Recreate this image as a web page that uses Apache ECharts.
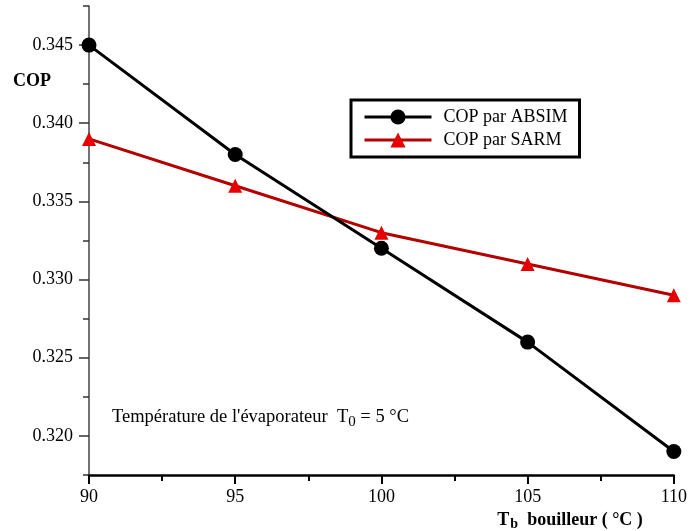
<!DOCTYPE html>
<html lang="fr">
<head>
    <meta charset="UTF-8">
    <title>COP en fonction de Tb</title>
    <script src="https://cdn.jsdelivr.net/npm/echarts@6/dist/echarts.min.js"></script>
    <style>
        html, body { margin: 0; padding: 0; background: #fff; }
        #chart1 { width: 690px; height: 531px; }
    </style>
</head>
<body>
<div id="chart1"></div>
<script>
    // temperatures du bouilleur (°C)
    var tempsBouilleur = [90, 95, 100, 105, 110];
    var copAbsim = [0.345, 0.338, 0.332, 0.326, 0.319];
    var copSarm = [0.339, 0.336, 0.333, 0.331, 0.329];
    var yMajorTicks = [0.320, 0.325, 0.330, 0.335, 0.340, 0.345];
    var yMinorTicks = [0.3175, 0.3225, 0.3275, 0.3325, 0.3375, 0.3425, 0.3475];

    var serif = '"Liberation Serif", "DejaVu Serif", serif';

    function pairs(ys) {
        return tempsBouilleur.map(function (t, i) { return [t, ys[i]]; });
    }

    var myChart = echarts.init(document.getElementById('chart1'), null, {renderer: 'canvas'});
    var option1 = {
        backgroundColor: '#fff',
        animation: false,
        grid: {left: 89, right: 13, top: 6, bottom: 55},
        legend: {
            orient: 'vertical',
            left: 351,
            top: 100,
            width: 228,
            padding: [8, 12, 8, 12],
            borderColor: '#000',
            borderWidth: 3,
            itemWidth: 67,
            itemHeight: 19,
            itemGap: 5,
            lineStyle: {width: 3},
            textStyle: {fontFamily: serif, fontSize: 18, color: '#000', padding: [0, 0, 0, 7]},
            data: ['COP par ABSIM', 'COP par SARM']
        },
        xAxis: {
            type: 'value',
            min: 90,
            max: 110,
            interval: 5,
            splitLine: {show: false},
            axisLine: {lineStyle: {color: '#000', width: 2.5}},
            axisTick: {length: 9, lineStyle: {color: '#000', width: 2}},
            minorTick: {show: true, splitNumber: 2, length: 6, lineStyle: {color: '#000', width: 2}},
            axisLabel: {fontFamily: serif, fontSize: 18, color: '#000', margin: 13},
            name: '{t|T}{s|b}{t|  bouilleur ( °C )}',
            nameLocation: 'end',
            nameGap: 0,
            nameTextStyle: {
                align: 'right',
                verticalAlign: 'top',
                padding: [34, 31, 0, 0],
                rich: {
                    t: {fontFamily: serif, fontWeight: 'bold', fontSize: 18, color: '#000'},
                    s: {fontFamily: serif, fontWeight: 'bold', fontSize: 14, color: '#000', padding: [8, 0, 0, 1]}
                }
            }
        },
        yAxis: [{
            type: 'value',
            min: 0.3175,
            max: 0.3475,
            splitLine: {show: false},
            axisLine: {lineStyle: {color: '#444', width: 1.5}},
            axisTick: {length: 10, customValues: yMajorTicks, lineStyle: {color: '#333', width: 1.5}},
            axisLabel: {
                fontFamily: serif, fontSize: 18, color: '#000', margin: 16,
                customValues: yMajorTicks,
                formatter: function (v) { return v.toFixed(3); }
            }
        }, {
            type: 'value',
            min: 0.3175,
            max: 0.3475,
            position: 'left',
            splitLine: {show: false},
            axisLine: {show: false},
            axisTick: {length: 6, customValues: yMinorTicks, lineStyle: {color: '#333', width: 1.5}},
            axisLabel: {show: false}
        }],
        graphic: [{
            type: 'text',
            left: 13,
            top: 72,
            style: {text: 'COP', font: 'bold 18px ' + serif, fill: '#000'}
        }, {
            type: 'text',
            left: 112,
            top: 408,
            style: {
                text: '{a|Température de l\'évaporateur  T}{s|0}{a| = 5 °C}',
                rich: {
                    a: {fontFamily: serif, fontSize: 18.5, fill: '#000'},
                    s: {fontFamily: serif, fontSize: 15, fill: '#000', padding: [9, 0, 0, 0]}
                }
            }
        }],
        series: [{
            name: 'COP par ABSIM',
            type: 'line',
            data: pairs(copAbsim),
            symbol: 'circle',
            symbolSize: 15,
            lineStyle: {color: '#000', width: 3},
            itemStyle: {color: '#000'},
            z: 3
        }, {
            name: 'COP par SARM',
            type: 'line',
            data: pairs(copSarm),
            symbol: 'triangle',
            symbolSize: 14,
            lineStyle: {color: '#b40000', width: 3},
            itemStyle: {color: '#e60000'},
            z: 2
        }]
    };
    myChart.setOption(option1);
</script>
</body>
</html>
